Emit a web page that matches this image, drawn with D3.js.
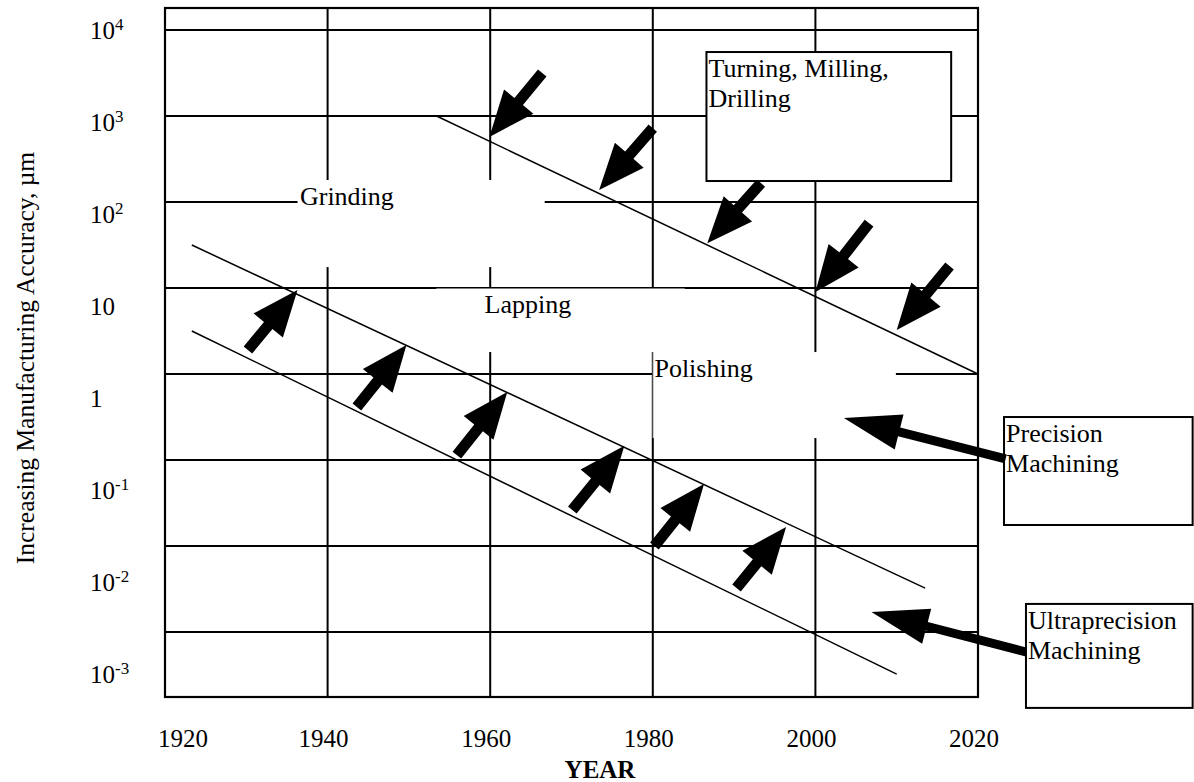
<!DOCTYPE html>
<html><head><meta charset="utf-8">
<script src="https://cdn.jsdelivr.net/npm/d3@7"></script>
<style>
body{margin:0;background:#fff}
svg{display:block}
text{font-family:"Liberation Serif","Times New Roman",serif;fill:#000}
</style>
</head><body>
<svg id="chart" width="1194" height="782"></svg>
<script>
// ---------- data ----------
const xTickYears = [1920, 1940, 1960, 1980, 2000, 2020];
const yTickValues = [1e4, 1e3, 1e2, 1e1, 1, 1e-1, 1e-2, 1e-3];
const yTickBase = ["10", "10", "10", "10", "1", "10", "10", "10"];
const yTickExp = ["4", "3", "2", "", "", "-1", "-2", "-3"];
const xTitle = "YEAR";
const yTitle = "Increasing Manufacturing Accuracy, \u00b5m";

// trend lines [year, accuracy µm]
const turningLine = [[1953.4, 1000], [2020, 1]];
const lappingUpperLine = [[1923.3, 31.6], [2013.5, 0.00324]];
const lappingLowerLine = [[1923.3, 3.16], [2010.0, 0.000324]];

// arrows: [tailYear, tailValue, tipYear, tipValue]
const turningArrows = [
  [1966.4, 3162, 1959.9, 570],
  [1980.0, 724, 1973.4, 138],
  [1993.3, 166, 1986.7, 33.1],
  [2006.6, 57.0, 2000.0, 8.97],
  [2016.5, 18.0, 2010.0, 3.24]
];
const precisionArrows = [
  [1930.2, 1.90, 1936.3, 9.48],
  [1943.6, 0.413, 1949.7, 2.17],
  [1955.9, 0.114, 1962.1, 0.618],
  [1970.1, 0.0262, 1976.5, 0.146],
  [1980.2, 0.0100, 1986.3, 0.0526],
  [1990.3, 0.00325, 1996.4, 0.0166]
];

// process labels
const processLabels = ["Grinding", "Lapping", "Polishing"];
const processAnchors = [[1936.6, 92.3], [1959.3, 5.12], [1980.2, 0.923]];
const processMasks = [
  [1936.3, 180.3, 1966.7, 17.5],
  [1953.4, 10, 1983.9, 1.80],
  [1980.0, 1.80, 2009.9, 0.180]
];

// callouts
const calloutLines = [["Turning, Milling,", "Drilling"], ["Precision", "Machining"], ["Ultraprecision", "Machining"]];
const calloutBoxes = [
  [1986.6, 5546, 2016.7, 175.4],
  [2023.2, 0.316, 2046.4, 0.01754],
  [2025.9, 0.00212, 2046.4, 0.000131]
];
const calloutArrows = [
  [2023.4, 0.103, 2003.5, 0.308],
  [2025.9, 0.000585, 2006.9, 0.00171]
];

// ---------- scales ----------
const svg = d3.select("#chart");
const x = d3.scaleLinear().domain([1920, 2020]).range([165, 978]);
const y = d3.scaleLog().domain([1.754e-4, 1.803e4]).range([697, 8]);
const yLabel = d3.scaleLog().domain([1e-3, 1e4]).range([683, 39]);

// ---------- grid ----------
const grid = svg.append("g").attr("stroke", "#000").attr("stroke-width", 2);
grid.selectAll("line.h").data(yTickValues).join("line")
  .attr("x1", x(1920)).attr("x2", x(2020))
  .attr("y1", d => y(d)).attr("y2", d => y(d));
grid.selectAll("line.v").data(xTickYears.slice(1, -1)).join("line")
  .attr("x1", d => x(d)).attr("x2", d => x(d))
  .attr("y1", y.range()[1]).attr("y2", y.range()[0]);
svg.append("rect")
  .attr("x", x(1920)).attr("y", y.range()[1])
  .attr("width", x(2020) - x(1920)).attr("height", y.range()[0] - y.range()[1])
  .attr("fill", "none").attr("stroke", "#000").attr("stroke-width", 2.2);

// ---------- masks for process labels ----------
svg.selectAll("rect.mask").data(processMasks).join("rect")
  .attr("x", d => x(d[0])).attr("y", d => y(d[1]))
  .attr("width", d => x(d[2]) - x(d[0])).attr("height", d => y(d[3]) - y(d[1]))
  .attr("fill", "#fff");
// thin border remnants
svg.append("line").attr("x1", x(processMasks[1][0])).attr("x2", x(processMasks[1][2]))
  .attr("y1", y(processMasks[1][1])).attr("y2", y(processMasks[1][1]))
  .attr("stroke", "#000").attr("stroke-width", 1);
svg.append("line").attr("x1", x(processMasks[2][0])).attr("x2", x(processMasks[2][0]))
  .attr("y1", y(processMasks[2][1])).attr("y2", y(processMasks[2][3]))
  .attr("stroke", "#555").attr("stroke-width", 1);

// ---------- trend lines ----------
const line = d3.line().x(d => x(d[0])).y(d => y(d[1]));
svg.selectAll("path.trend").data([turningLine, lappingUpperLine, lappingLowerLine]).join("path")
  .attr("d", line).attr("fill", "none").attr("stroke", "#000").attr("stroke-width", 1.5);

// ---------- arrows ----------
function arrowPath(d, L, H, S) {
  const x1 = x(d[0]), y1 = y(d[1]), x2 = x(d[2]), y2 = y(d[3]);
  const len = Math.hypot(x2 - x1, y2 - y1);
  const ux = (x2 - x1) / len, uy = (y2 - y1) / len;
  const nx = -uy, ny = ux;
  const bx = x2 - ux * L, by = y2 - uy * L;
  const pts = [
    [x1 + nx * S / 2, y1 + ny * S / 2],
    [bx + nx * S / 2, by + ny * S / 2],
    [bx + nx * H, by + ny * H],
    [x2, y2],
    [bx - nx * H, by - ny * H],
    [bx - nx * S / 2, by - ny * S / 2],
    [x1 - nx * S / 2, y1 - ny * S / 2]
  ];
  return "M" + pts.map(p => p.join(",")).join("L") + "Z";
}
svg.selectAll("path.arrowA").data(turningArrows.concat(precisionArrows)).join("path")
  .attr("d", d => arrowPath(d, 46, 19, 11)).attr("fill", "#000");

// ---------- process labels ----------
svg.selectAll("text.proc").data(processLabels).join("text")
  .attr("x", (d, i) => x(processAnchors[i][0]))
  .attr("y", (d, i) => y(processAnchors[i][1]))
  .attr("font-size", 26).text(d => d);

// ---------- callouts ----------
const cg = svg.selectAll("g.callout").data(calloutBoxes).join("g");
cg.append("rect")
  .attr("x", d => x(d[0])).attr("y", d => y(d[1]))
  .attr("width", d => x(d[2]) - x(d[0])).attr("height", d => y(d[3]) - y(d[1]))
  .attr("fill", "#fff").attr("stroke", "#000").attr("stroke-width", 2);
cg.each(function (d, i) {
  const t = d3.select(this).append("text").attr("font-size", 26);
  calloutLines[i].forEach((s, j) => {
    t.append("tspan").attr("x", x(d[0]) + 2).attr("y", y(d[1]) + 25 + j * 30).text(s);
  });
});
svg.selectAll("path.arrowB").data(calloutArrows).join("path")
  .attr("d", d => arrowPath(d, 57, 18, 9)).attr("fill", "#000");

// ---------- axis labels ----------
svg.selectAll("text.xt").data(xTickYears).join("text")
  .attr("x", (d, i) => i === 0 ? x(d) - 7 : x(d) - 4)
  .attr("y", 747)
  .attr("text-anchor", (d, i) => i === 0 ? "start" : "middle")
  .attr("font-size", 25).text(d => d);

const yt = svg.selectAll("text.yt").data(yTickValues).join("text")
  .attr("x", 90).attr("y", d => yLabel(d)).attr("font-size", 25);
yt.append("tspan").text((d, i) => yTickBase[i]);
yt.append("tspan").attr("font-size", 17).attr("dy", -9).text((d, i) => yTickExp[i]);

svg.append("text").attr("x", 600).attr("y", 778).attr("text-anchor", "middle")
  .attr("font-size", 25).attr("font-weight", "bold").text(xTitle);
svg.append("text").attr("transform", "translate(34,358) rotate(-90)")
  .attr("text-anchor", "middle").attr("font-size", 25.5).text(yTitle);
</script>
</body></html>
